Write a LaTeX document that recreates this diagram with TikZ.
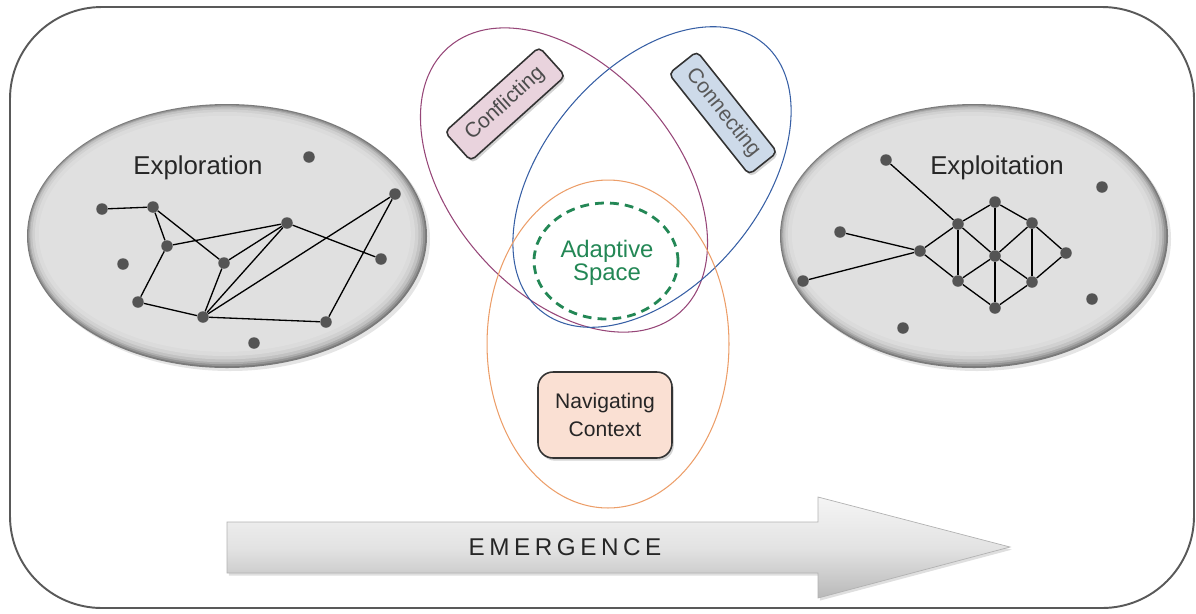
\documentclass[tikz,border=0pt]{standalone}
\usepackage{fontspec}
\setmainfont{Liberation Sans}
\usetikzlibrary{shadows}
\definecolor{dotc}{gray}{0.33}
\definecolor{pinkc}{RGB}{233,211,221}
\definecolor{bluec}{RGB}{205,218,233}
\definecolor{peach}{RGB}{250,224,211}
\definecolor{purp}{RGB}{150,70,120}
\definecolor{bluel}{RGB}{55,95,165}
\definecolor{orng}{RGB}{236,158,105}
\definecolor{greenl}{RGB}{35,135,85}
\newcommand{\lsp}{\kern2.6pt}
% bevelled grey ellipse: centre x, centre y, x radius, y radius (pixels)
\newcommand{\drawblob}[4]{%
  \fill[black, opacity=0.10] (#1+3,#2+3) ellipse [x radius=#3*0.02cm, y radius=#4*0.02cm];
  \foreach \ins/\g/\dd in {0/0.48/0, 1.5/0.58/-0.4, 3/0.68/-0.8, 4.5/0.76/-1.2, 7/0.82/-1.6, 10/0.86/-2, 14/0.88/-2.2}{
    \pgfmathsetmacro\rxx{(#3-\ins)*0.02}
    \pgfmathsetmacro\ryy{(#4-\ins)*0.02}
    \definecolor{tmpc}{gray}{\g}
    \fill[tmpc] (#1+\dd,#2+\dd) ellipse [x radius=\rxx cm, y radius=\ryy cm];
  }%
}
\begin{document}
\begin{tikzpicture}[x=0.02cm,y=-0.02cm,
  frame/.style={draw=black!65, line width=1.1pt, rounded corners=1.84cm},
  dot/.style={circle, fill=dotc, inner sep=0pt, minimum size=0.23cm},
  link/.style={draw=black, line width=0.75pt},
  blobtitle/.style={font=\fontsize{14.7}{16}\selectfont, text=black!85},
  tilebox/.style={draw=black!80, line width=0.9pt, rounded corners=3pt, inner sep=0pt, font=\fontsize{12}{14}\selectfont, drop shadow={shadow xshift=1pt, shadow yshift=-1.5pt, opacity=0.35}},
  venn/.style={line width=0.6pt},
  arrowfill/.style={top color=gray!8, bottom color=gray!55, middle color=gray!22, draw=gray!60, line width=0.4pt, drop shadow={shadow xshift=1pt, shadow yshift=-1.5pt, opacity=0.25}},
]
\useasboundingbox (0,0) rectangle (1196,613);
\draw[frame] (10,7) rectangle (1194,608);

% blobs
\drawblob{227}{236}{200}{132}
\drawblob{974}{236}{194}{132}

% left network
\foreach \n/\x/\y in {lz/309/157, la/102/209, lb/153/207, lc/167/246, ld/123/264, le/224/263, lf/287/223, lg/395/194, lh/381/259, li/138/302, lj/203/317, lk/326/322, ll/254/343}
  \node[dot] (\n) at (\x,\y) {};
\foreach \u/\v in {la/lb, lb/lc, lb/le, lc/lf, lc/li, le/lf, le/lj, lf/lj, lf/lh, lg/lj, lg/lk, li/lj, lj/lk}
  \draw[link] (\u) -- (\v);
\node[blobtitle] (explor) at (198,168) {Exploration};

% right network
\foreach \n/\x/\y in {rp/886/160, rq/1102/187, rr/840/232, rs/803/281, rt/920/251, ru/958/224, rv/995/202, rw/1032/223, rx/995/256, ry/1066/253, rz/958/281, raa/1032/282, rbb/995/308, rcc/1092/299, rdd/903/328}
  \node[dot] (\n) at (\x,\y) {};
\foreach \u/\v in {rp/ru, rr/rt, rs/rt, rt/ru, rt/rz, ru/rv, rv/rw, rw/ry, rz/rbb, rbb/raa, raa/ry, ru/rz, rv/rx, rx/rbb, rw/raa, ru/rx, rx/raa, rz/rx, rx/rw}
  \draw[link] (\u) -- (\v);
\node[blobtitle] (exploit) at (997,168) {Exploitation};

% Venn ellipses
\draw[venn, draw=purp, rotate around={-49:(564,180)}] (564,180) ellipse [x radius=3.52cm, y radius=2.26cm];
\draw[venn, draw=bluel, rotate around={50:(652,177)}] (652,177) ellipse [x radius=3.48cm, y radius=2.16cm];
\draw[venn, draw=orng] (608,344) ellipse [x radius=2.42cm, y radius=3.28cm];
\draw[draw=greenl, line width=1.6pt, dash pattern=on 5pt off 3.5pt] (606,261) ellipse [x radius=1.44cm, y radius=1.16cm];
\node[align=center, text=greenl, font=\fontsize{13.6}{13}\selectfont] (adapt) at (607,263) {Adaptive\\Space};

% boxes
\node[tilebox, fill=pinkc, minimum width=2.54cm, minimum height=0.78cm, rotate=42, text=black!70] (conf) at (505,104) {Conflicting};
\node[tilebox, fill=bluec, minimum width=2.58cm, minimum height=0.72cm, rotate=-51.5, text=black!65] (conn) at (723,113) {Connecting};
\node[tilebox, fill=peach, rounded corners=0.3cm, minimum width=2.68cm, minimum height=1.72cm, align=center, font=\fontsize{12}{15.9}\selectfont, text=black!85] (nav) at (605,415) {Navigating\\Context};

% emergence arrow
\path[arrowfill] (227,522) -- (818,522) -- (818,497) -- (1010,547) -- (818,598) -- (818,573) -- (227,573) -- cycle;
\node[font=\fontsize{13.8}{15}\selectfont, text=black!85] (emer) at (565,547) {E\lsp M\lsp E\lsp R\lsp G\lsp E\lsp N\lsp C\lsp E};
\end{tikzpicture}
\end{document}
